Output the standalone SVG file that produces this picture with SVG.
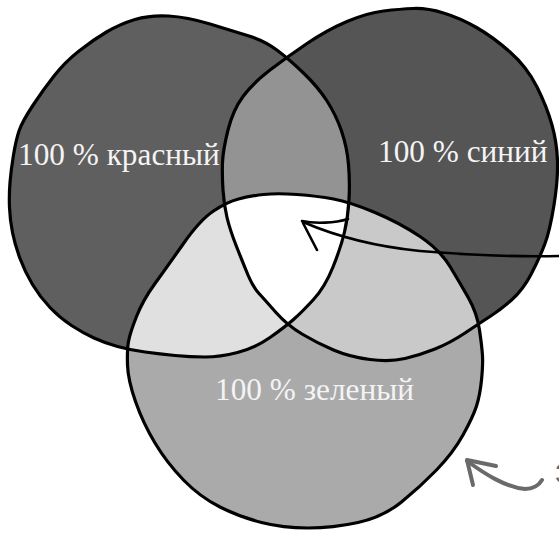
<svg xmlns="http://www.w3.org/2000/svg" xmlns:xlink="http://www.w3.org/1999/xlink" width="559" height="534" viewBox="0 0 559 534">
<style>
.outline{fill:none;stroke:#000;stroke-width:3.2;stroke-linejoin:round;stroke-linecap:round}
.label{font-family:"Liberation Serif","DejaVu Serif",serif;font-size:31.3px;fill:#f4f4f4}
.conn{fill:none;stroke:#000;stroke-width:2.6;stroke-linecap:round;stroke-linejoin:round}
.conn-gray{fill:none;stroke:#6a6a6a;stroke-width:4;stroke-linecap:round;stroke-linejoin:round}
.note{font-family:"Liberation Sans","DejaVu Sans",sans-serif;font-size:28px;fill:#666}
</style>
<defs>
<path id="pRed" d="M168.5,16 Q187,17 210,24 Q233,31 249,36 Q265,41 277.5,50.5 Q290,60 304,73.5 Q318,87 327,101 Q336,115 341.5,131 Q347,147 348.5,164.5 Q350,182 349,199.5 Q348,217 344.5,232 Q341,247 333,267 Q325,287 313.5,299.5 Q302,312 293.5,319.5 Q285,327 270,337.5 Q255,348 237.5,352.5 Q220,357 205,357 Q190,357 175,355.5 Q160,354 145,352 Q130,350 117.5,346.5 Q105,343 94,338 Q83,333 71.5,325.5 Q60,318 50,307.5 Q40,297 32.5,284.5 Q25,272 20,258.5 Q15,245 12.5,232.5 Q10,220 9.5,207.5 Q9,195 10,182.5 Q11,170 13.5,155 Q16,140 19,131 Q22,122 32.5,106 Q43,90 54,76 Q65,62 79,51 Q93,40 106.5,32 Q120,24 135,19.5 Q150,15 168.5,16 Z"/>
<path id="pBlue" d="M383.5,11 Q400,9 413.5,8.5 Q427,8 443.5,13 Q460,18 476.5,27.5 Q493,37 510,52 Q527,67 537,87 Q547,107 552,125 Q557,143 557.5,161.5 Q558,180 554,205 Q550,230 545,243.5 Q540,257 531.5,273.5 Q523,290 511.5,300 Q500,310 490,316.5 Q480,323 465,333 Q450,343 435,349 Q420,355 405,358.5 Q390,362 370,359.5 Q350,357 333.5,350 Q317,343 302,334 Q287,325 276,312.5 Q265,300 259,293.5 Q253,287 248,275 Q243,263 236.5,246.5 Q230,230 227,217.5 Q224,205 223,190 Q222,175 222.5,162.5 Q223,150 228,130 Q233,110 243,96.5 Q253,83 270,70 Q287,57 307,43.5 Q327,30 347,21.5 Q367,13 383.5,11 Z"/>
<path id="pGreen" d="M297,194.5 Q317,196 333.5,199 Q350,202 375,212.5 Q400,223 420,236.5 Q440,250 450,266.5 Q460,283 468.5,298 Q477,313 479.5,330 Q482,347 482.5,356 Q483,365 481.5,380 Q480,395 476.5,406 Q473,417 463,435 Q453,453 436.5,470 Q420,487 401.5,502 Q383,517 358,522.5 Q333,528 308,528 Q283,528 261.5,522.5 Q240,517 220,507 Q200,497 183.5,480 Q167,463 155,443 Q143,423 135.5,401.5 Q128,380 127.5,365 Q127,350 128.5,341.5 Q130,333 136.5,316.5 Q143,300 155,283.5 Q167,267 183.5,243.5 Q200,220 213.5,211 Q227,202 238.5,199 Q250,196 263.5,194.5 Q277,193 297,194.5 Z"/>
<clipPath id="cRed"><use xlink:href="#pRed"/></clipPath>
<clipPath id="cBlue"><use xlink:href="#pBlue"/></clipPath>
</defs>
<g id="fills">
<use xlink:href="#pRed" fill="#5f5f5f"/>
<use xlink:href="#pBlue" fill="#555555"/>
<use xlink:href="#pGreen" fill="#aaaaaa"/>
<g clip-path="url(#cRed)"><use xlink:href="#pBlue" fill="#939393"/></g>
<g clip-path="url(#cRed)"><use xlink:href="#pGreen" fill="#e0e0e0"/></g>
<g clip-path="url(#cBlue)"><use xlink:href="#pGreen" fill="#c9c9c9"/></g>
<g clip-path="url(#cRed)"><g clip-path="url(#cBlue)"><use xlink:href="#pGreen" fill="#ffffff"/></g></g>
</g>
<g id="red-circle">
<use xlink:href="#pRed" class="outline"/>
<text class="label" x="18" y="165">100 % красный</text>
</g>
<g id="blue-circle">
<use xlink:href="#pBlue" class="outline"/>
<text class="label" x="378" y="162">100 % синий</text>
</g>
<g id="green-circle">
<use xlink:href="#pGreen" class="outline"/>
<text class="label" x="215" y="400">100 % зеленый</text>
</g>
<g id="connectors">
<path class="conn" d="M559,256 C520,257 470,255 420,251 C380,247 340,238 303,222"/>
<path class="conn" d="M302,221 C315,224 335,223 348,219"/>
<path class="conn" d="M303,223 L317,250"/>
<path class="conn-gray" d="M467,461 C485,474 505,487 525,489 C533,489 539,485 542,480"/>
<path class="conn-gray" d="M467,460 L496,466 M467,460 L473,485"/>
</g>
<g id="note">
<text class="note" x="555" y="483">З</text>
</g>
</svg>
